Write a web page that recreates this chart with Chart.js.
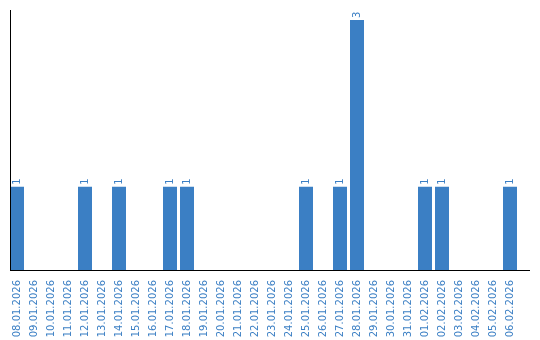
<!DOCTYPE html>
<html>
<head>
<meta charset="utf-8">
<script src="https://cdn.jsdelivr.net/npm/chart.js@4/dist/chart.umd.min.js"></script>
<style>
  body { margin: 0; background: #fff; }
</style>
</head>
<body>
<canvas id="dayChart" width="540" height="340"></canvas>
<script>
const days = [
  '08.01.2026', '09.01.2026', '10.01.2026', '11.01.2026', '12.01.2026',
  '13.01.2026', '14.01.2026', '15.01.2026', '16.01.2026', '17.01.2026',
  '18.01.2026', '19.01.2026', '20.01.2026', '21.01.2026', '22.01.2026',
  '23.01.2026', '24.01.2026', '25.01.2026', '26.01.2026', '27.01.2026',
  '28.01.2026', '29.01.2026', '30.01.2026', '31.01.2026', '01.02.2026',
  '02.02.2026', '03.02.2026', '04.02.2026', '05.02.2026', '06.02.2026'
];
const counts = [1,0,0,0,1, 0,1,0,0,1, 1,0,0,0,0, 0,0,1,0,1, 3,0,0,0,1, 1,0,0,0,1];

const blue = '#3b7fc4';

// value above each bar, rotated like the ticks
const barLabels = {
  id: 'barLabels',
  afterDatasetsDraw(chart) {
    const ctx = chart.ctx;
    const meta = chart.getDatasetMeta(0);
    ctx.save();
    ctx.fillStyle = blue;
    ctx.font = '10px "DejaVu Sans"';
    ctx.textAlign = 'left';
    ctx.textBaseline = 'middle';
    meta.data.forEach((bar, i) => {
      if (!counts[i]) return;
      ctx.save();
      ctx.translate(bar.x, bar.y - 2);
      ctx.rotate(-Math.PI / 2);
      ctx.fillText(String(counts[i]), 0, 0);
      ctx.restore();
    });
    ctx.restore();
  }
};

// axis lines: x line runs a bit past the last category
const axisLines = {
  id: 'axisLines',
  afterDraw(chart) {
    const ctx = chart.ctx;
    const a = chart.chartArea;
    ctx.save();
    ctx.strokeStyle = '#000';
    ctx.lineWidth = 1;
    ctx.beginPath();
    ctx.moveTo(10.5, a.top);
    ctx.lineTo(10.5, a.bottom);
    ctx.moveTo(10, a.bottom + 0.5);
    ctx.lineTo(530, a.bottom + 0.5);
    ctx.stroke();
    ctx.restore();
  }
};

new Chart(document.getElementById('dayChart'), {
  type: 'bar',
  data: {
    labels: days,
    datasets: [{
      data: counts,
      backgroundColor: blue,
      borderWidth: 0,
      categoryPercentage: 1,
      barPercentage: 14 / 17
    }]
  },
  options: {
    responsive: false,
    animation: false,
    layout: { padding: { left: 8.5, right: 21.5, top: 10, bottom: 0 } },
    plugins: {
      legend: { display: false },
      tooltip: { enabled: false }
    },
    scales: {
      x: {
        offset: true,
        grid: { display: false },
        border: { display: false },
        ticks: {
          color: blue,
          font: { family: 'DejaVu Sans', size: 10 },
          minRotation: 90,
          maxRotation: 90,
          autoSkip: false,
          padding: 2
        },
        afterFit(scale) { scale.height = 70; }
      },
      y: {
        display: false,
        min: 0,
        max: 3.12
      }
    }
  },
  plugins: [barLabels, axisLines]
});
</script>
</body>
</html>
